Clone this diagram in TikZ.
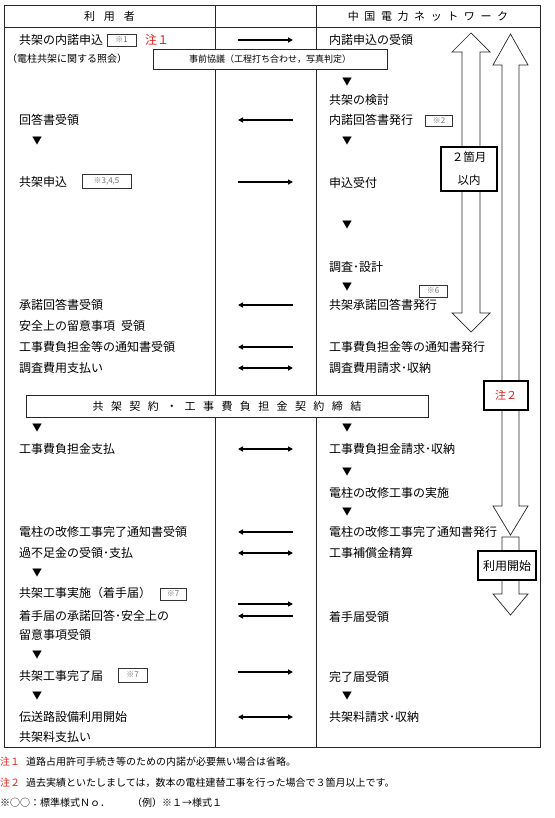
\documentclass[tikz,border=0pt]{standalone}
\usepackage{fontspec}
\setmainfont{Noto Sans CJK JP}
\usetikzlibrary{arrows.meta}
\usetikzlibrary{positioning}
\definecolor{notered}{HTML}{E0201B}
\definecolor{refgray}{HTML}{707070}
\newcommand{\gp}[1]{\hspace{#1pt}}

\begin{document}
\begin{tikzpicture}[x=1pt,y=-1pt,
    frame/.style={draw=black!85,line width=0.8pt},
    lbl/.style={anchor=west,inner sep=0pt,font=\fontsize{12}{14}\selectfont},
    hdr/.style={inner sep=0pt,font=\fontsize{11}{13}\selectfont},
    tri/.style={inner sep=0pt,font=\fontsize{10}{11}\selectfont},
    refbox/.style={draw=black!80,line width=0.6pt,inner sep=0pt,text=refgray,
      font=\fontsize{8}{9}\selectfont,minimum height=12pt},
    wbox/.style={draw=black!85,line width=0.8pt,fill=white,inner sep=0pt},
    tagbox/.style={draw=black,line width=2.2pt,fill=white,inner sep=0pt},
    bigarrow/.style={draw=black!85,line width=0.7pt,fill=white},
    msgR/.style={line width=1.6pt,-{Triangle[length=5pt,width=5pt]}},
    msgL/.style={line width=1.6pt,{Triangle[length=5pt,width=5pt]}-},
    msgB/.style={line width=1.6pt,{Triangle[length=5pt,width=5pt]}-{Triangle[length=5pt,width=5pt]}},
    foot/.style={anchor=west,inner sep=0pt,font=\fontsize{10}{12}\selectfont}]

  \useasboundingbox (0,0) rectangle (554,818);

  % table
  \draw[frame] (4,5) rectangle (540,747);
  \draw[frame] (4,27) -- (540,27);
  \draw[frame] (215,5) -- (215,747);
  \draw[frame] (316,5) -- (316,747);

  \node[hdr] (h_user) at (109.5,16) {利\gp9用\gp9者};
  \node[hdr] (h_cnw) at (428,16) {中\gp{5.6}国\gp{5.6}電\gp{5.6}力\gp{5.6}ネ\gp{5.6}ッ\gp{5.6}ト\gp{5.6}ワ\gp{5.6}ー\gp{5.6}ク};

  % user side
  \node[lbl] (u_req)  at (19,40)  {共架の内諾申込};
  \node[refbox,minimum width=29pt] (r_1) at (121.5,40) {※1};
  \node[lbl,text=notered] (u_n1) at (145,40) {注１};
  \node[lbl,font=\fontsize{10}{12}\selectfont] (u_inq) at (7,59) {（電柱共架に関する照会）};
  \node[lbl] (u_ans)  at (19,120) {回答書受領};
  \node[lbl] (u_app)  at (19,182) {共架申込};
  \node[refbox,minimum width=49pt,minimum height=14pt] (r_345) at (106.5,181) {※3,4,5};
  \node[lbl] (u_acc)  at (19,305) {承諾回答書受領};
  \node[lbl] (u_safe) at (19,326) {安全上の留意事項\gp6受領};
  \node[lbl] (u_note) at (19,347) {工事費負担金等の通知書受領};
  \node[lbl] (u_pay)  at (19,368) {調査費用支払い};
  \node[lbl] (u_cpay) at (19,449) {工事費負担金支払};
  \node[lbl] (u_done) at (19,532) {電柱の改修工事完了通知書受領};
  \node[lbl] (u_bal)  at (19,553) {過不足金の受領･支払};
  \node[lbl] (u_work) at (19,593) {共架工事実施（着手届）};
  \node[refbox,minimum width=26pt] (r_7a) at (173,594) {※7};
  \node[lbl] (u_ack1) at (19,616) {着手届の承諾回答･安全上の};
  \node[lbl] (u_ack2) at (19,635) {留意事項受領};
  \node[lbl] (u_fin)  at (19,676) {共架工事完了届};
  \node[refbox,minimum width=29pt,minimum height=14pt] (r_7b) at (132.5,675) {※7};
  \node[lbl] (u_use)  at (19,717) {伝送路設備利用開始};
  \node[lbl] (u_fee)  at (19,737) {共架料支払い};

  % network side
  \node[lbl] (n_recv)   at (329,40)  {内諾申込の受領};
  \node[lbl] (n_study)  at (329,100) {共架の検討};
  \node[lbl] (n_reply)  at (329,120) {内諾回答書発行};
  \node[refbox,minimum width=27pt,minimum height=11pt] (r_2) at (439,121) {※2};
  \node[lbl] (n_accept) at (329,183) {申込受付};
  \node[lbl] (n_survey) at (329,267) {調査･設計};
  \node[refbox,minimum width=28pt] (r_6) at (433,291) {※6};
  \node[lbl] (n_issue)  at (329,305) {共架承諾回答書発行};
  \node[lbl] (n_notice) at (329,347) {工事費負担金等の通知書発行};
  \node[lbl] (n_bill)   at (329,368) {調査費用請求･収納};
  \node[lbl] (n_cbill)  at (329,449) {工事費負担金請求･収納};
  \node[lbl] (n_repair) at (329,493) {電柱の改修工事の実施};
  \node[lbl] (n_rdone)  at (329,532) {電柱の改修工事完了通知書発行};
  \node[lbl] (n_settle) at (329,553) {工事補償金精算};
  \node[lbl] (n_start)  at (329,617) {着手届受領};
  \node[lbl] (n_fin)    at (329,677) {完了届受領};
  \node[lbl] (n_fee)    at (329,717) {共架料請求･収納};

  % wide boxes
  \node[wbox,minimum width=234pt,minimum height=20pt,font=\fontsize{9}{11}\selectfont] (b_pre) at (270,59) {事前協議（工程打ち合わせ，写真判定）};
  \node[wbox,minimum width=402pt,minimum height=22pt,font=\fontsize{11}{13}\selectfont] (b_contract) at (227,406)
    {共\gp{7.4}架\gp{7.4}契\gp{7.4}約\gp{7.4}・\gp{7.4}工\gp{7.4}事\gp{7.4}費\gp{7.4}負\gp{7.4}担\gp{7.4}金\gp{7.4}契\gp{7.4}約\gp{7.4}締\gp{7.4}結};

  % steps
  \foreach \y [count=\i] in {141,428,573,655,696}
    \node[tri] (u_down_\i) at (37,\y) {▼};
  \foreach \y [count=\i] in {82,141,225,287,428,472,512,696}
    \node[tri] (n_down_\i) at (347,\y) {▼};

  % exchanges
  \foreach \y/\k [count=\i] in {40/R,120/L,182/R,305/L,347/L,368/B,449/B,532/L,553/B,604/R,616/L,672/R,717/B}{
    \coordinate (ml_\i) at (238,\y);
    \coordinate (mr_\i) at (293,\y);
    \draw[msg\k] (ml_\i) -- (mr_\i);
  }

  % periods
  \draw[bigarrow] (471,33) -- (490,52) -- (480,52) -- (480,313) -- (490,313) -- (471,332)
    -- (452,313) -- (462,313) -- (462,52) -- (452,52) -- cycle;
  \draw[bigarrow] (510.5,34) -- (528,65) -- (519,65) -- (519,506) -- (528,506) -- (510.5,535)
    -- (493,506) -- (502,506) -- (502,65) -- (493,65) -- cycle;
  \draw[bigarrow] (502,537) -- (519,537) -- (519,594) -- (528,594) -- (510.5,615)
    -- (493,594) -- (502,594) -- cycle;

  \node[tagbox,minimum width=56pt,minimum height=44pt,align=center,font=\fontsize{11.5}{23}\selectfont] (k_2m) at (469,169) {２箇月\\以内};
  \node[tagbox,minimum width=44pt,minimum height=29pt,text=notered,font=\fontsize{11}{13}\selectfont] (k_n2) at (506,395.5) {注２};
  \node[tagbox,minimum width=58pt,minimum height=29pt,font=\fontsize{12}{14}\selectfont] (k_use) at (507,565.5) {利用開始};

  % notes
  \node[foot,text=notered] (f_n1) at (0,762) {注１};
  \node[foot] (f_t1) at (26,762) {道路占用許可手続き等のための内諾が必要無い場合は省略。};
  \node[foot,text=notered] (f_n2) at (0,783) {注２};
  \node[foot] (f_t2) at (26,783) {過去実績といたしましては，数本の電柱建替工事を行った場合で３箇月以上です。};
  \node[foot] (f_t3) at (0,803) {※○○：標準様式Ｎｏ．};
  \node[foot] (f_t4) at (132,803) {（例）※１→様式１};
\end{tikzpicture}
\end{document}
